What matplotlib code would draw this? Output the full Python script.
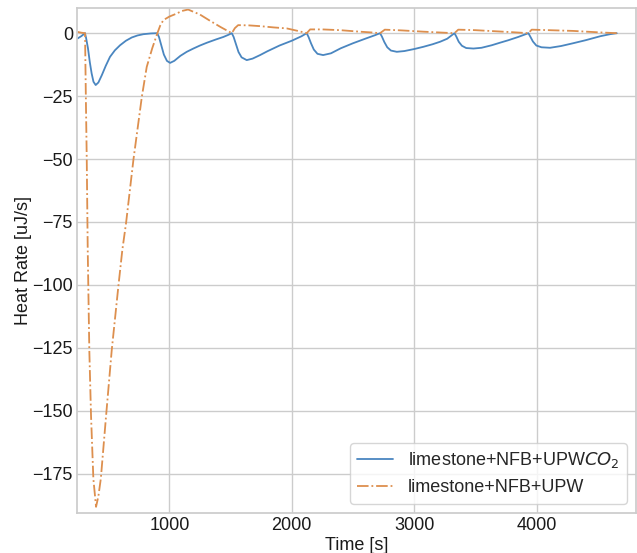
import matplotlib
matplotlib.use("Agg")
import matplotlib.pyplot as plt
import seaborn as sns

sns.set_theme(style="whitegrid")
plt.rcParams['font.family'] = ['Liberation Sans', 'DejaVu Sans']

# limestone+NFB+UPW CO2 series (time [s], heat rate [uJ/s])
t_co2 = [250, 280, 311, 320, 335, 350, 365, 380, 398, 420, 448, 480, 515, 555, 597, 645, 693, 740, 788, 850, 900,
         915, 935, 955, 980, 1006, 1040, 1090, 1142, 1196, 1250, 1306, 1380, 1441, 1480, 1510,
         1525, 1545, 1565, 1590, 1632, 1680, 1741, 1800, 1900, 2000, 2080, 2122,
         2137, 2157, 2180, 2210, 2256, 2320, 2400, 2500, 2600, 2680, 2721,
         2736, 2756, 2780, 2810, 2858, 2920, 3000, 3076, 3150, 3212, 3270, 3329,
         3344, 3364, 3390, 3425, 3484, 3550, 3633, 3700, 3769, 3850, 3933,
         3948, 3970, 3998, 4040, 4110, 4200, 4298, 4400, 4521, 4600, 4655]
q_co2 = [-2.1, -1.2, 0.0, -2.0, -6.0, -11.5, -16.0, -19.3, -20.6, -19.6, -16.7, -13.0, -9.4, -6.8, -4.8, -3.0, -1.7, -0.9, -0.4, -0.1, 0.0,
         -1.5, -5.0, -8.5, -11.0, -11.8, -11.0, -9.0, -7.4, -6.1, -4.9, -3.8, -2.5, -1.5, -0.7, 0.0,
         -1.5, -4.5, -7.5, -9.6, -10.7, -10.1, -8.7, -7.2, -4.9, -3.0, -1.2, 0.0,
         -1.5, -4.0, -6.5, -8.2, -8.7, -8.0, -6.0, -4.0, -2.2, -0.8, 0.0,
         -1.3, -3.5, -5.6, -6.9, -7.4, -7.1, -6.3, -5.4, -4.4, -3.4, -2.2, 0.0,
         -1.3, -3.4, -5.0, -5.9, -6.1, -5.8, -4.8, -3.8, -2.8, -1.5, 0.0,
         -1.3, -3.3, -4.9, -5.6, -5.8, -5.1, -4.0, -2.8, -1.2, -0.4, 0.0]

# limestone+NFB+UPW series
t_upw = [250, 280, 311, 318, 325, 333, 346, 360, 379, 401, 420, 440, 483, 529, 583, 616, 646, 706, 775, 815, 860, 902,
         925, 951, 1000, 1060, 1100, 1153, 1250, 1333, 1420, 1510,
         1535, 1562, 1650, 1741, 1850, 1959, 2050, 2122,
         2150, 2250, 2395, 2555, 2650, 2721,
         2760, 2900, 3076, 3200, 3329,
         3360, 3500, 3650, 3800, 3933,
         3960, 4100, 4300, 4521, 4655]
q_upw = [0.5, 0.2, 0.0, -26.6, -50.0, -86.0, -126.0, -152.0, -177.0, -188.2, -184.0, -177.0, -152.0, -126.0, -100.7, -86.0, -75.5, -50.4, -25.3, -13.4, -6.0, 0.0,
         3.0, 5.2, 6.6, 7.8, 8.8, 9.4, 7.4, 4.9, 2.4, 0.0,
         2.0, 3.2, 3.1, 2.8, 2.3, 1.9, 0.9, 0.0,
         1.5, 1.5, 1.2, 0.6, 0.3, 0.0,
         1.4, 1.1, 0.6, 0.3, 0.0,
         1.4, 1.2, 0.8, 0.4, 0.0,
         1.4, 1.2, 0.9, 0.3, 0.0]

fig = plt.figure(figsize=(6.37, 5.53), dpi=100)
ax = fig.add_axes([0.121, 0.073, 0.877, 0.9125])
ax.plot(t_co2, q_co2, color='#4a86c0', lw=1.3, label='limestone+NFB+UPW$CO_2$')
ax.plot(t_upw, q_upw, color='#dd8f4e', lw=1.3, ls='-.', label='limestone+NFB+UPW')
ax.set_xlim(246, 4810)
ax.set_ylim(-190.5, 10)
ax.set_xticks([1000, 2000, 3000, 4000])
ax.set_yticks([0, -25, -50, -75, -100, -125, -150, -175])
ax.tick_params(labelsize=13, length=0, pad=3, colors='#1a1a1a')
ax.set_xlabel('Time [s]', fontsize=13, labelpad=2, color='#1a1a1a')
ax.set_ylabel('Heat Rate [uJ/s]', fontsize=13, labelpad=0, color='#1a1a1a')
ax.legend(loc='lower right', fontsize=13, frameon=True)
fig.savefig('out.png', dpi=100)
